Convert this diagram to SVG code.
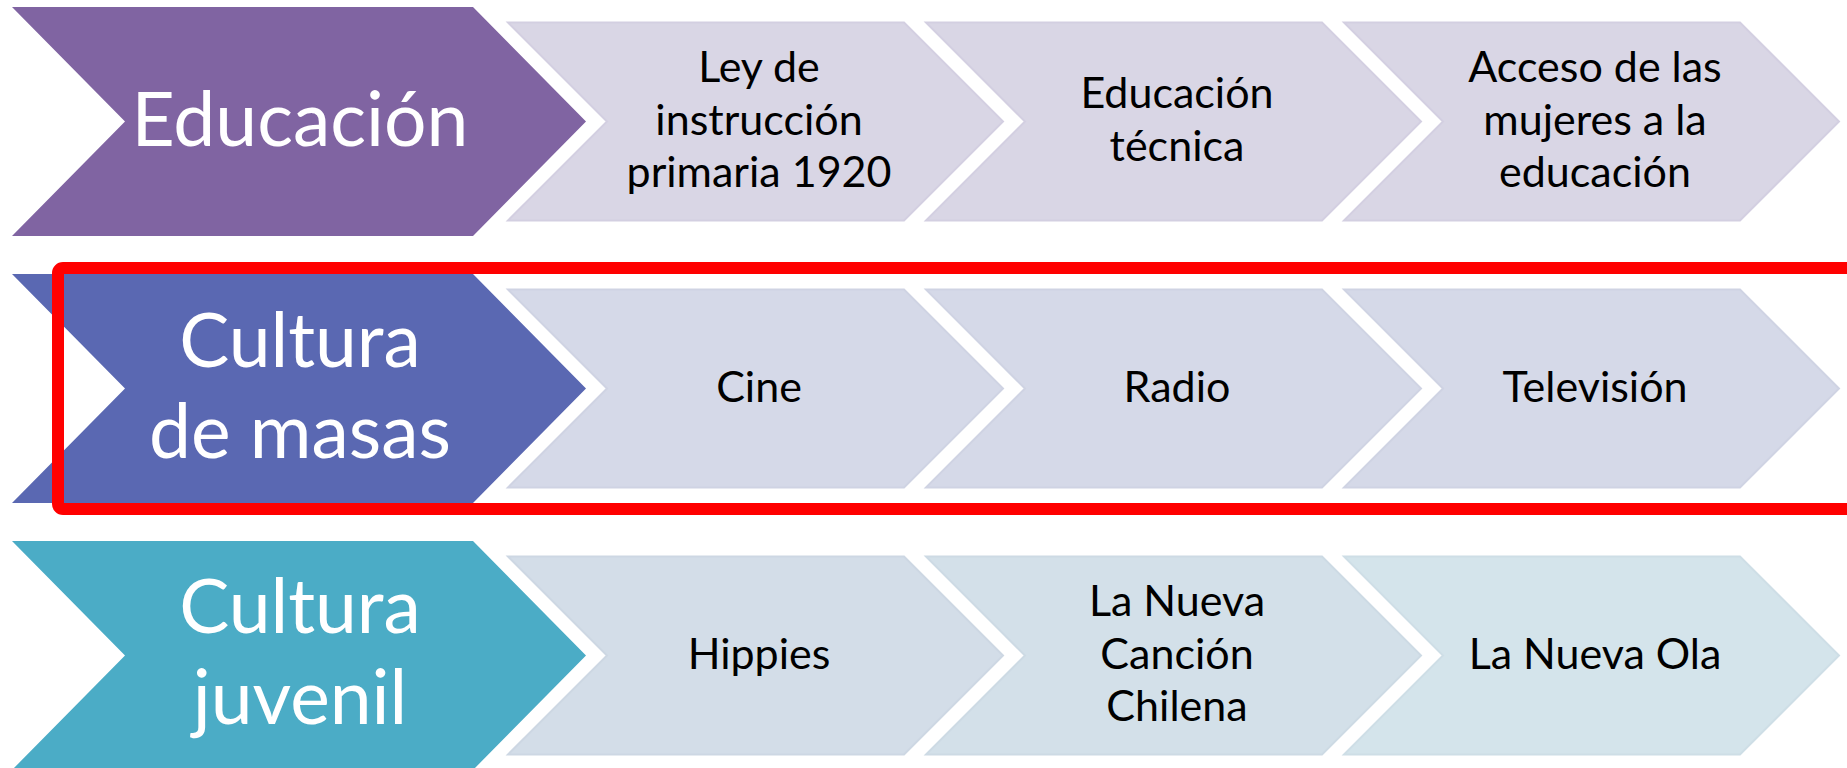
<svg xmlns="http://www.w3.org/2000/svg" width="1847" height="768" viewBox="0 0 1847 768">
<style>
.big{font-family:Lato,"Liberation Sans",sans-serif;font-size:75px;fill:#ffffff;text-anchor:middle}
.sm{font-family:Lato,"Liberation Sans",sans-serif;font-size:43px;fill:#000000;text-anchor:middle}
.l1{fill:#d9d6e5;stroke:#d3cfe1;stroke-width:2}
.l2{fill:#d5d9e8;stroke:#cfd3e3;stroke-width:2}
.l3a{fill:#d3dde8;stroke:#cdd7e3;stroke-width:2}
.l3b{fill:#d3e0e9;stroke:#cddae4;stroke-width:2}
.l3c{fill:#d4e4eb;stroke:#cedee6;stroke-width:2}
</style>
<rect width="1847" height="768" fill="#ffffff"/>
<g id="row1">
<g id="educacion"><polygon points="12,7 473,7 586,121.5 473,236 12,236 125,121.5" fill="#8064a2"/><text class="big" x="300" y="146">Educación</text></g>
<g id="ley"><polygon class="l1" points="508,22.5 904,22.5 1003,121.5 904,220.5 508,220.5 607,121.5"/><text class="sm"><tspan x="759" y="82">Ley de</tspan><tspan x="759" y="134.5">instrucción</tspan><tspan x="759" y="187">primaria 1920</tspan></text></g>
<g id="tecnica"><polygon class="l1" points="926,22.5 1322,22.5 1421,121.5 1322,220.5 926,220.5 1025,121.5"/><text class="sm"><tspan x="1177" y="108">Educación</tspan><tspan x="1177" y="161">técnica</tspan></text></g>
<g id="mujeres"><polygon class="l1" points="1344,22.5 1740,22.5 1839,121.5 1740,220.5 1344,220.5 1443,121.5"/><text class="sm"><tspan x="1595" y="82">Acceso de las</tspan><tspan x="1595" y="134.5">mujeres a la</tspan><tspan x="1595" y="187">educación</tspan></text></g>
</g>
<g id="row2">
<g id="masas"><polygon points="12,274 473,274 586,388.5 473,503 12,503 125,388.5" fill="#5a68b2"/><text class="big"><tspan x="300" y="367">Cultura</tspan><tspan x="300" y="458">de masas</tspan></text></g>
<g id="cine"><polygon class="l2" points="508,289.5 904,289.5 1003,388.5 904,487.5 508,487.5 607,388.5"/><text class="sm" x="759" y="401.5">Cine</text></g>
<g id="radio"><polygon class="l2" points="926,289.5 1322,289.5 1421,388.5 1322,487.5 926,487.5 1025,388.5"/><text class="sm" x="1177" y="401.5">Radio</text></g>
<g id="television"><polygon class="l2" points="1344,289.5 1740,289.5 1839,388.5 1740,487.5 1344,487.5 1443,388.5"/><text class="sm" x="1595" y="401.5">Televisión</text></g>
</g>
<g id="row3">
<g id="juvenil"><polygon points="12,541 473,541 586,655.5 473,770 12,770 125,655.5" fill="#4bacc6"/><text class="big"><tspan x="300" y="633">Cultura</tspan><tspan x="300" y="724">juvenil</tspan></text></g>
<g id="hippies"><polygon class="l3a" points="508,556.5 904,556.5 1003,655.5 904,754.5 508,754.5 607,655.5"/><text class="sm" x="759" y="668.5">Hippies</text></g>
<g id="cancion"><polygon class="l3b" points="926,556.5 1322,556.5 1421,655.5 1322,754.5 926,754.5 1025,655.5"/><text class="sm"><tspan x="1177" y="616">La Nueva</tspan><tspan x="1177" y="668.5">Canción</tspan><tspan x="1177" y="721">Chilena</tspan></text></g>
<g id="ola"><polygon class="l3c" points="1344,556.5 1740,556.5 1839,655.5 1740,754.5 1344,754.5 1443,655.5"/><text class="sm" x="1595" y="668.5">La Nueva Ola</text></g>
</g>
<g id="connectors"></g>
<g id="highlight"><rect x="58" y="268" width="1900" height="241" rx="5" fill="none" stroke="#ff0000" stroke-width="12"/></g>
</svg>
